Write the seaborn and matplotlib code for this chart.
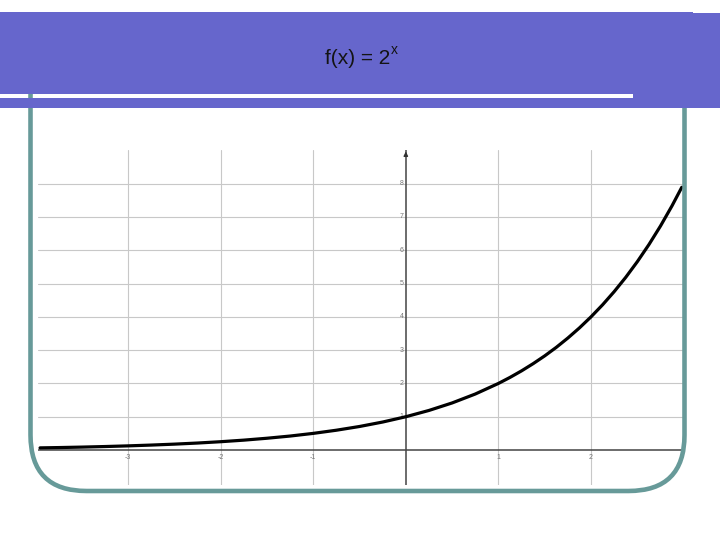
import matplotlib
matplotlib.use('Agg')
import matplotlib.pyplot as plt
import seaborn as sns
from matplotlib.patches import Rectangle, FancyBboxPatch

x_vals = [-3.95, -3.75, -3.5, -3.25, -3.0, -2.75, -2.5, -2.25, -2.0, -1.75,
          -1.5, -1.25, -1.0, -0.75, -0.5, -0.25, 0.0, 0.25, 0.5, 0.75,
          1.0, 1.125, 1.25, 1.375, 1.5, 1.625, 1.75, 1.875, 2.0, 2.125,
          2.25, 2.375, 2.5, 2.625, 2.75, 2.875, 2.98]
y_vals = [0.065, 0.074, 0.088, 0.105, 0.125, 0.149, 0.177, 0.210, 0.25, 0.297,
          0.354, 0.420, 0.5, 0.595, 0.707, 0.841, 1.0, 1.189, 1.414, 1.682,
          2.0, 2.181, 2.378, 2.594, 2.828, 3.084, 3.364, 3.668, 4.0, 4.362,
          4.757, 5.187, 5.657, 6.169, 6.727, 7.336, 7.89]
x_ticks = [-3, -2, -1, 1, 2]
y_ticks = [1, 2, 3, 4, 5, 6, 7, 8]
title = 'f(x) = 2'
title_sup = 'x'

sns.set_style('white')
plt.rcParams['font.family'] = ['Liberation Sans', 'DejaVu Sans']

fig = plt.figure(figsize=(7.2, 5.4), dpi=100)

# graph area (pixel box 38..684 x 150..485)
ax = fig.add_axes([38 / 720, 55 / 540, 646 / 720, 335 / 540])
ax.set_xlim(-3.972, 3.004)
ax.set_ylim(-1.05, 9.01)
ax.set_xticks(x_ticks)
ax.set_yticks(y_ticks)
ax.grid(True, color='#c8c8c8', lw=0.8)
ax.tick_params(length=0, labelbottom=False, labelleft=False)
for s in ax.spines.values():
    s.set_visible(False)
ax.axhline(0, color='#444444', lw=1.1, zorder=2)
ax.axvline(0, color='#444444', lw=1.1, zorder=2)
ax.annotate('', xy=(0, 9.05), xytext=(0, 8.75), annotation_clip=False,
            arrowprops=dict(arrowstyle='-|>', color='#333333', lw=1.0,
                            mutation_scale=6))
for t in x_ticks:
    ax.annotate(str(t), (t, 0), xytext=(0, -5.5), textcoords='offset points',
                ha='center', va='center', fontsize=5, color='#777777')
for t in y_ticks:
    ax.annotate(str(t), (0, t), xytext=(-3.2, 0), textcoords='offset points',
                ha='center', va='center', fontsize=5, color='#777777')

sns.lineplot(x=x_vals, y=y_vals, color='black', lw=2.3, ax=ax, zorder=3)
ax.set_xlabel('')
ax.set_ylabel('')

# slide decoration in pixel coordinates
deco = fig.add_axes([0, 0, 1, 1])
deco.set_xlim(0, 720)
deco.set_ylim(540, 0)
deco.axis('off')
deco.patch.set_alpha(0)

teal = '#679a99'
deco.add_patch(FancyBboxPatch((30.5, 40), 654, 451,
                              boxstyle='round,pad=0,rounding_size=56',
                              fill=False, ec=teal, lw=3.3))
blue = '#6666cc'
deco.add_patch(Rectangle((0, 12), 692, 81.5, color=blue, lw=0))
deco.add_patch(Rectangle((692, 13.3), 28, 95, color=blue, lw=0))
deco.add_patch(Rectangle((633, 12), 60, 96, color=blue, lw=0))
deco.add_patch(Rectangle((0, 98.3), 636, 10, color=blue, lw=0))

deco.text(390, 64.5, title, ha='right', va='baseline', fontsize=15,
          color='#141414')
deco.text(390.5, 54.5, title_sup, ha='left', va='baseline', fontsize=10,
          color='#141414')

fig.savefig('out.png', dpi=100)
